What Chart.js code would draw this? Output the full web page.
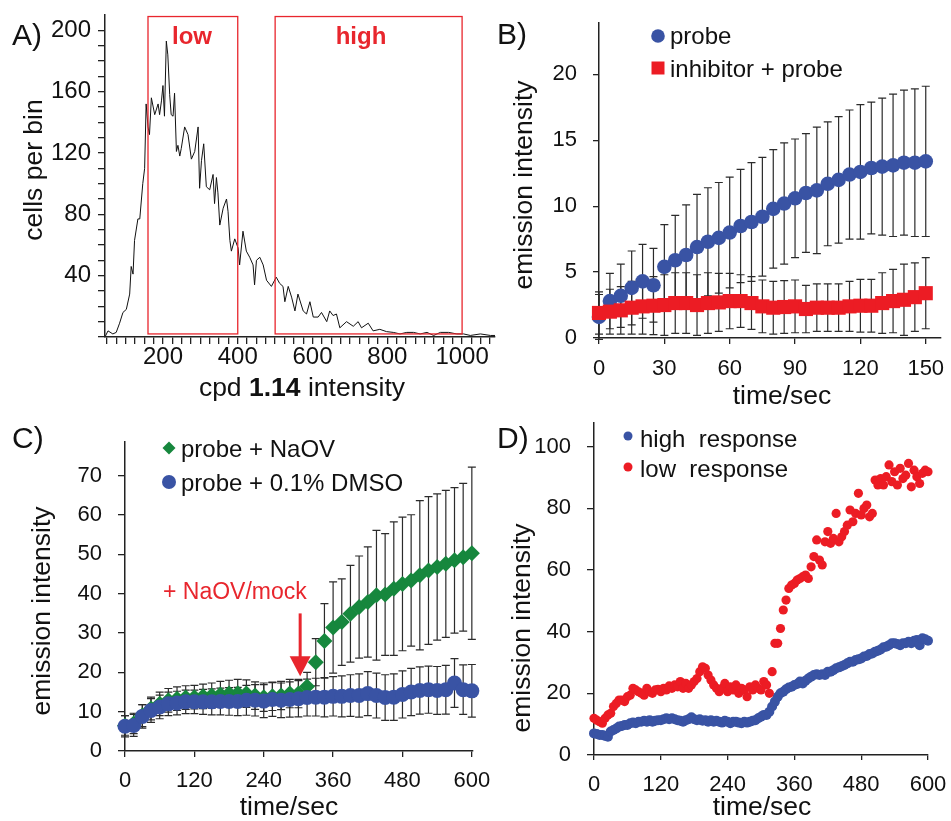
<!DOCTYPE html>
<html>
<head>
<meta charset="utf-8">
<script src="https://cdn.jsdelivr.net/npm/chart.js@4.4.1/dist/chart.umd.min.js"></script>
<style>
  body { margin: 0; background: #fff; }
  canvas { position: absolute; left: 0; top: 0; }
</style>
</head>
<body>
<canvas id="chartA" width="951" height="821"></canvas>
<canvas id="chartB" width="951" height="821"></canvas>
<canvas id="chartC" width="951" height="821"></canvas>
<canvas id="chartD" width="951" height="821"></canvas>
<script>
// ---- panel A: histogram ----
const histX = [46,53,66,75,84,93,102,111,115,120,124,133,138,146,151,155,160,164,169,178,187,191,196,200,204,209,213,218,222,227,231,236,240,245,249,258,267,276,285,294,298,303,309,316,325,334,338,343,347,352,361,370,374,379,383,392,401,405,414,423,432,441,445,450,459,468,477,490,503,512,521,526,535,544,553,561,575,584,593,602,615,624,638,646,655,664,673,691,709,722,731,749,762,780,798,816,834,852,870,888,906,924,942,964,986,1004,1022,1049,1076,1089];
const histY = [0.5,4,2,3,9,16,18,28,46,41,63,77,77,100,110,152,137,132,156,145,152,145,154,164,144,193,184,158,145,144,159,121,125,118,123,137,132,116,121,137,97,115,126,98,96,106,87,104,94,73,84,90,82,63,56,64,58,47,69,56,52,47,34,50,52,47,37,33,39,35,33,23,33,26,17,28,17,15,23,13,13,16,10,17,14,15,6,10,7,10,6,9,4,5,3.5,3,2,3,3,2,3,1,3,3,2,2,1,2,1,1];
const gateLow = [160, 400];
const gateHigh = [500, 1000];
const gateY = [2, 209];
const aXLabels = [200, 400, 600, 800, 1000];
const aYLabels = [40, 80, 120, 160, 200];

// ---- panel B ----
const bTime = [0,5,10,15,20,25,30,35,40,45,50,55,60,65,70,75,80,85,90,95,100,105,110,115,120,125,130,135,140,145,150];
const bProbe = [1.6,2.8,3.2,3.8,4.3,4.0,5.4,5.9,6.3,6.9,7.3,7.6,8.0,8.5,8.8,9.2,9.8,10.2,10.6,11.0,11.2,11.7,12.0,12.4,12.6,12.9,13.0,13.1,13.3,13.3,13.4];
const bProbeErr = [1.7,2.1,2.4,2.8,2.8,2.8,3.2,3.4,3.8,4.0,4.1,4.2,4.2,4.3,4.5,4.5,4.5,4.6,4.5,4.5,4.8,4.7,4.8,4.9,5.1,5.0,5.2,5.4,5.5,5.6,5.7];
const bInhib = [1.9,2.0,2.1,2.3,2.4,2.45,2.5,2.65,2.65,2.5,2.65,2.7,2.8,2.8,2.65,2.4,2.3,2.35,2.4,2.2,2.3,2.3,2.3,2.4,2.45,2.45,2.65,2.8,2.9,3.1,3.4];
const bInhibErr = [1.6,1.7,1.8,2.0,2.1,2.2,2.3,2.3,2.3,2.3,2.3,2.2,2.1,2.0,2.0,2.0,2.0,2.0,2.0,1.8,1.8,1.8,1.8,1.9,2.0,2.0,2.3,2.4,2.7,2.6,2.7];
const bXLabels = [0, 30, 60, 90, 120, 150];
const bYLabels = [0, 5, 10, 15, 20];

// ---- panel C ----
const cTime = [0,15,30,45,60,75,90,105,120,135,150,165,180,195,210,225,240,255,270,285,300,315,330,345,360,375,390,405,420,435,450,465,480,495,510,525,540,555,570,585,600];
const cNaOV = [6.5,7,9,10.8,12,12.9,13.3,13.6,13.7,13.9,14.1,14.4,14.6,14.7,14.6,14.1,13.7,13.9,14.1,14.6,14.6,16.4,22.6,28,31.4,32.8,34.9,36.6,37.9,39.6,39.8,41.3,42.5,43.4,44.7,45.9,46.8,47.6,48.5,49.3,50.3];
const cNaOVErr = [2.5,2.6,2.8,2.9,3,3,3,3,3,3.1,3.2,3.3,3.4,3.5,3.5,3.5,3.6,3.6,3.6,3.6,3.6,3.6,6,9.5,11.6,11,12.3,13,14,16.5,15.5,17,17,16.7,19,18.8,18.6,18.7,18.5,18.8,21.9];
const cDMSO = [6.3,6.5,8.8,10.3,11.2,12.0,12.2,12.5,12.5,12.5,12.5,12.6,12.6,12.6,12.9,12.9,12.7,13.1,12.9,13.1,13.3,13.6,13.7,13.7,13.9,13.9,14.1,14.1,14.6,14.1,13.6,13.7,14.4,15.0,15.4,15.6,15.4,15.6,17.3,15.6,15.3];
const cDMSOErr = [2.7,2.8,3,3,3,3,3,3,3,3.2,3.3,3.4,3.5,3.6,3.8,4,4.2,4.3,4.4,4.5,4.6,4.7,4.8,5,5,5.2,5.3,5.5,5.6,5.7,5.8,5.9,6,6,6,6,6.1,6.2,6.2,6.3,6.7];
const mockArrow = { t: 303, from: 35, to: 19 };
const cXLabels = [0, 120, 240, 360, 480, 600];
const cYLabels = [0, 10, 20, 30, 40, 50, 60, 70];

// ---- panel D ----
const dTime = [0,5,10,15,20,25,30,35,40,45,50,55,60,65,70,75,80,85,90,95,100,105,110,115,120,125,130,135,140,145,150,155,160,165,170,175,180,185,190,195,200,205,210,215,220,225,230,235,240,245,250,255,260,265,270,275,280,285,290,295,300,305,310,315,320,325,330,335,340,345,350,355,360,365,370,375,380,385,390,395,400,405,410,415,420,425,430,435,440,445,450,455,460,465,470,475,480,485,490,495,500,505,510,515,520,525,530,535,540,545,550,555,560,565,570,575,580,585,590,595,600];
const dHigh = [7,6.8,6.5,6.5,6.2,5.9,7.6,8.1,8.6,9.2,9.4,9.7,9.7,10.3,10.5,10.3,10.8,10.8,11.1,10.8,11.3,10.8,11.1,11.3,11.3,11.6,11.9,11.6,11.9,11.6,11.3,11.1,10.8,11.3,11.6,12.2,11.6,11.3,11.6,11.1,11.3,10.8,11.3,10.8,11.1,10.8,10.5,11.1,10.8,10.3,10.8,10.8,10.5,10.3,10.8,10.5,10.8,11.1,11.3,11.9,12.4,13,13,14,15.7,17.3,18.9,20,20.5,21.3,21.9,22.1,22.7,23,23.8,23.2,24.1,24.8,25.4,25.9,26.2,25.9,26.2,25.9,27,27,27.5,28.1,28.4,28.8,29.2,29.7,30.2,30.2,30.8,31,31.3,31.9,32.1,32.7,32.9,33.5,33.8,34.2,34.9,35.1,35.6,36.2,36.2,36,35.6,36.2,36.2,36.7,36.2,37,37.3,35.6,37.8,37.5,37];
const dLow = [11.9,11.3,10.8,10.3,11.9,13,13.5,15.7,16.7,17.8,17.8,17.3,18.9,19.4,21.6,21.1,20.5,20,19.4,21.6,20.5,20,21.1,21.3,20.5,21.6,21.1,22.4,21.6,22.7,22.1,23.8,21.6,23.2,21.6,22.7,23.8,24.8,27,28.6,28.1,25.9,24.3,22.7,21.6,20.5,21.6,23.2,20.5,22.1,21.1,22.7,20,21.6,21.1,18.9,22.1,21.1,22.7,21.6,21.1,23.8,22.7,20,27,36.2,36.2,41,47,50.2,54,55.1,55.6,56.7,57.2,57.8,58.3,57.2,61,64.3,69.7,63.2,61.6,69.1,72.4,68.6,70.2,78.3,69.1,70.7,72.4,74.5,79.4,75.6,78.3,84.8,77.8,79.9,81,77.2,78.3,89.1,87.5,89.6,87.5,90.2,94,88.6,91.8,87.5,92.9,89.6,90.7,94.5,86.9,92.3,90.2,88,91.3,92.3,91.8];
const dXLabels = [0, 120, 240, 360, 480, 600];
const dYLabels = [0, 20, 40, 60, 80, 100];

const FONT = "'Liberation Sans', Arial, sans-serif";
const BLUE = '#3953a4';
const RED = '#ec1c24';
const GREEN = '#16873d';
const W = 951, H = 821, YW = 80, XH = 50;
const TITLE_SIZE = 26.5;

function points(xs, ys) {
    return xs.map((x, i) => ({ x: x, y: ys[i] }));
}

function range(from, to, step) {
    const out = [];
    for (let v = from; v <= to + 1e-9; v += step) out.push(v);
    return out;
}

function makeScale(axis, min, max, tickVals, labelVals, fontSize, pad, tickLen) {
    return {
        type: 'linear',
        min: min,
        max: max,
        grid: { display: true, drawOnChartArea: false, drawTicks: true, tickLength: tickLen, color: '#222', lineWidth: 1.3 },
        border: { display: true, color: '#222', width: 1.5 },
        ticks: {
            autoSkip: false,
            maxRotation: 0,
            padding: pad,
            color: '#111',
            font: { family: FONT, size: fontSize },
            callback: v => labelVals.includes(v) ? String(v) : ''
        },
        afterBuildTicks: s => { s.ticks = tickVals.map(v => ({ value: v })); },
        afterFit: s => {
            if (axis === 'x') { s.height = XH; s.paddingLeft = 0; s.paddingRight = 0; }
            else { s.width = YW; s.paddingTop = 0; s.paddingBottom = 0; }
        }
    };
}

function baseOptions(box, xScale, yScale) {
    return {
        responsive: false,
        animation: false,
        events: [],
        layout: { padding: { left: box.l - YW, top: box.t, right: W - box.r, bottom: H - box.b - XH } },
        plugins: { legend: { display: false }, tooltip: { enabled: false } },
        scales: { x: xScale, y: yScale }
    };
}

function text(ctx, s, x, y, size, opts) {
    opts = opts || {};
    ctx.save();
    ctx.font = (opts.bold ? 'bold ' : '') + size + 'px ' + FONT;
    ctx.fillStyle = opts.color || '#111';
    ctx.textAlign = opts.align || 'left';
    ctx.textBaseline = opts.baseline || 'alphabetic';
    if (opts.rotate) {
        ctx.translate(x, y);
        ctx.rotate(-Math.PI / 2);
        ctx.fillText(s, 0, 0);
    } else {
        ctx.fillText(s, x, y);
    }
    ctx.restore();
}

function marker(ctx, style, x, y, r, color) {
    ctx.save();
    ctx.fillStyle = color;
    ctx.beginPath();
    if (style === 'circle') ctx.arc(x, y, r, 0, Math.PI * 2);
    else if (style === 'rect') ctx.rect(x - r, y - r, 2 * r, 2 * r);
    else { ctx.moveTo(x, y - r); ctx.lineTo(x + r, y); ctx.lineTo(x, y + r); ctx.lineTo(x - r, y); ctx.closePath(); }
    ctx.fill();
    ctx.restore();
}

const errorBars = {
    id: 'errorBars',
    beforeDatasetsDraw(chart) {
        const ctx = chart.ctx;
        const xs = chart.scales.x, ys = chart.scales.y;
        ctx.save();
        ctx.strokeStyle = '#2b2b2b';
        ctx.lineWidth = 1.2;
        chart.data.datasets.forEach(ds => {
            if (!ds.errors) return;
            ds.data.forEach((p, i) => {
                const e = ds.errors[i];
                const x = xs.getPixelForValue(p.x);
                const top = ys.getPixelForValue(p.y + e);
                const bot = ys.getPixelForValue(p.y - e);
                ctx.beginPath();
                ctx.moveTo(x, top); ctx.lineTo(x, bot);
                ctx.moveTo(x - 4, top); ctx.lineTo(x + 4, top);
                ctx.moveTo(x - 4, bot); ctx.lineTo(x + 4, bot);
                ctx.stroke();
            });
        });
        ctx.restore();
    }
};

// ---------- A ----------
new Chart(document.getElementById('chartA'), {
    type: 'scatter',
    data: {
        datasets: [{
            data: points(histX, histY),
            showLine: true,
            borderColor: '#111',
            borderWidth: 1,
            pointRadius: 0,
            tension: 0
        }]
    },
    options: baseOptions({ l: 105, t: 15, r: 495, b: 337 },
        makeScale('x', 45, 1088, range(50, 1075, 25), aXLabels, 24, -1, 7),
        makeScale('y', 0, 210, range(0, 200, 10), aYLabels, 24, 7, 7)),
    plugins: [{
        id: 'panelA',
        afterDraw(chart) {
            const ctx = chart.ctx, xs = chart.scales.x, ys = chart.scales.y;
            ctx.save();
            ctx.strokeStyle = '#e8262d';
            ctx.lineWidth = 1.3;
            [gateLow, gateHigh].forEach(g => {
                const x1 = xs.getPixelForValue(g[0]), x2 = xs.getPixelForValue(g[1]);
                const y1 = ys.getPixelForValue(gateY[1]), y2 = ys.getPixelForValue(gateY[0]);
                ctx.strokeRect(x1, y1, x2 - x1, y2 - y1);
            });
            ctx.restore();
            text(ctx, 'low', 192, 44, 24, { bold: true, color: '#e8262d', align: 'center' });
            text(ctx, 'high', 361, 44, 24, { bold: true, color: '#e8262d', align: 'center' });
            text(ctx, 'A)', 12, 45, 30);
            text(ctx, 'cells per bin', 35, 170, TITLE_SIZE, { rotate: true, align: 'center', baseline: 'middle' });
            // x title with bold compound number
            ctx.save();
            const parts = [['cpd ', false], ['1.14', true], [' intensity', false]];
            let total = 0;
            parts.forEach(p => { ctx.font = (p[1] ? 'bold ' : '') + TITLE_SIZE + 'px ' + FONT; total += ctx.measureText(p[0]).width; });
            let x = 302 - total / 2;
            parts.forEach(p => {
                ctx.font = (p[1] ? 'bold ' : '') + TITLE_SIZE + 'px ' + FONT;
                ctx.fillStyle = '#111';
                ctx.fillText(p[0], x, 396);
                x += ctx.measureText(p[0]).width;
            });
            ctx.restore();
        }
    }]
});

// ---------- B ----------
new Chart(document.getElementById('chartB'), {
    type: 'scatter',
    data: {
        datasets: [{
            data: points(bTime, bInhib),
            errors: bInhibErr,
            pointStyle: 'rect',
            pointRadius: 10,
            backgroundColor: RED,
            borderWidth: 0,
            clip: false,
            order: 0
        }, {
            data: points(bTime, bProbe),
            errors: bProbeErr,
            pointStyle: 'circle',
            pointRadius: 7.3,
            backgroundColor: BLUE,
            borderWidth: 0,
            clip: false,
            order: 1
        }]
    },
    options: baseOptions({ l: 599, t: 23, r: 945, b: 338 },
        makeScale('x', 0, 157, bXLabels, bXLabels, 22, 12, 6),
        makeScale('y', 0, 23.9, bYLabels, bYLabels, 22, 16, 6)),
    plugins: [errorBars, {
        id: 'panelB',
        afterDraw(chart) {
            const ctx = chart.ctx;
            text(ctx, 'B)', 497, 44, 30);
            marker(ctx, 'circle', 658, 36, 6.8, BLUE);
            text(ctx, 'probe', 670, 44, 24);
            marker(ctx, 'rect', 658, 68, 6.5, RED);
            text(ctx, 'inhibitor + probe', 670, 77, 24);
            text(ctx, 'emission intensity', 525, 185, TITLE_SIZE, { rotate: true, align: 'center', baseline: 'middle' });
            text(ctx, 'time/sec', 782, 404, TITLE_SIZE, { align: 'center' });
        }
    }]
});

// ---------- C ----------
new Chart(document.getElementById('chartC'), {
    type: 'scatter',
    data: {
        datasets: [{
            data: points(cTime, cDMSO),
            errors: cDMSOErr,
            pointStyle: 'circle',
            pointRadius: 7.5,
            backgroundColor: BLUE,
            borderWidth: 0,
            clip: false,
            order: 0
        }, {
            data: points(cTime, cNaOV),
            errors: cNaOVErr,
            pointStyle: 'rectRot',
            pointRadius: 8,
            backgroundColor: GREEN,
            borderWidth: 0,
            clip: false,
            order: 1
        }]
    },
    options: baseOptions({ l: 125, t: 442, r: 473, b: 751 },
        makeScale('x', 0, 602, cXLabels, cXLabels, 22, 11, 6),
        makeScale('y', 0, 78.6, cYLabels, cYLabels, 22, 16, 7)),
    plugins: [errorBars, {
        id: 'panelC',
        afterDraw(chart) {
            const ctx = chart.ctx, xs = chart.scales.x, ys = chart.scales.y;
            text(ctx, 'C)', 12, 448, 30);
            marker(ctx, 'diamond', 169, 448, 6.5, GREEN);
            text(ctx, 'probe + NaOV', 181, 457, 24);
            marker(ctx, 'circle', 169, 482, 7, BLUE);
            text(ctx, 'probe + 0.1% DMSO', 181, 491, 24);
            text(ctx, '+ NaOV/mock', 163, 599, 23, { color: '#e8262d' });
            // arrow marking the addition time
            const ax = xs.getPixelForValue(mockArrow.t);
            const aTop = ys.getPixelForValue(mockArrow.from);
            const aTip = ys.getPixelForValue(mockArrow.to);
            ctx.save();
            ctx.strokeStyle = '#e8262d';
            ctx.fillStyle = '#e8262d';
            ctx.lineWidth = 3;
            ctx.beginPath();
            ctx.moveTo(ax, aTop); ctx.lineTo(ax, aTip - 18);
            ctx.stroke();
            ctx.beginPath();
            ctx.moveTo(ax - 10.5, aTip - 20); ctx.lineTo(ax + 10.5, aTip - 20); ctx.lineTo(ax, aTip);
            ctx.closePath();
            ctx.fill();
            ctx.restore();
            text(ctx, 'emission intensity', 43, 611, TITLE_SIZE, { rotate: true, align: 'center', baseline: 'middle' });
            text(ctx, 'time/sec', 289, 815, TITLE_SIZE, { align: 'center' });
        }
    }]
});

// ---------- D ----------
new Chart(document.getElementById('chartD'), {
    type: 'scatter',
    data: {
        datasets: [{
            data: points(dTime, dLow),
            pointStyle: 'circle',
            pointRadius: 4.6,
            backgroundColor: RED,
            borderWidth: 0,
            clip: false
        }, {
            data: points(dTime, dHigh),
            pointStyle: 'circle',
            pointRadius: 5,
            backgroundColor: BLUE,
            borderWidth: 0,
            clip: false
        }]
    },
    options: baseOptions({ l: 594, t: 423, r: 928, b: 755 },
        makeScale('x', 0, 600, dXLabels, dXLabels, 22, 12, 5),
        makeScale('y', 0, 107.6, dYLabels, dYLabels, 22, 16, 7)),
    plugins: [{
        id: 'panelD',
        afterDraw(chart) {
            const ctx = chart.ctx;
            text(ctx, 'D)', 497, 448, 30);
            marker(ctx, 'circle', 628, 436, 4.5, BLUE);
            text(ctx, 'high  response', 640, 447, 24);
            marker(ctx, 'circle', 628, 467, 4.5, RED);
            text(ctx, 'low  response', 640, 477, 24);
            text(ctx, 'emission intensity', 523, 628, TITLE_SIZE, { rotate: true, align: 'center', baseline: 'middle' });
            text(ctx, 'time/sec', 762, 815, TITLE_SIZE, { align: 'center' });
        }
    }]
});
</script>
</body>
</html>
